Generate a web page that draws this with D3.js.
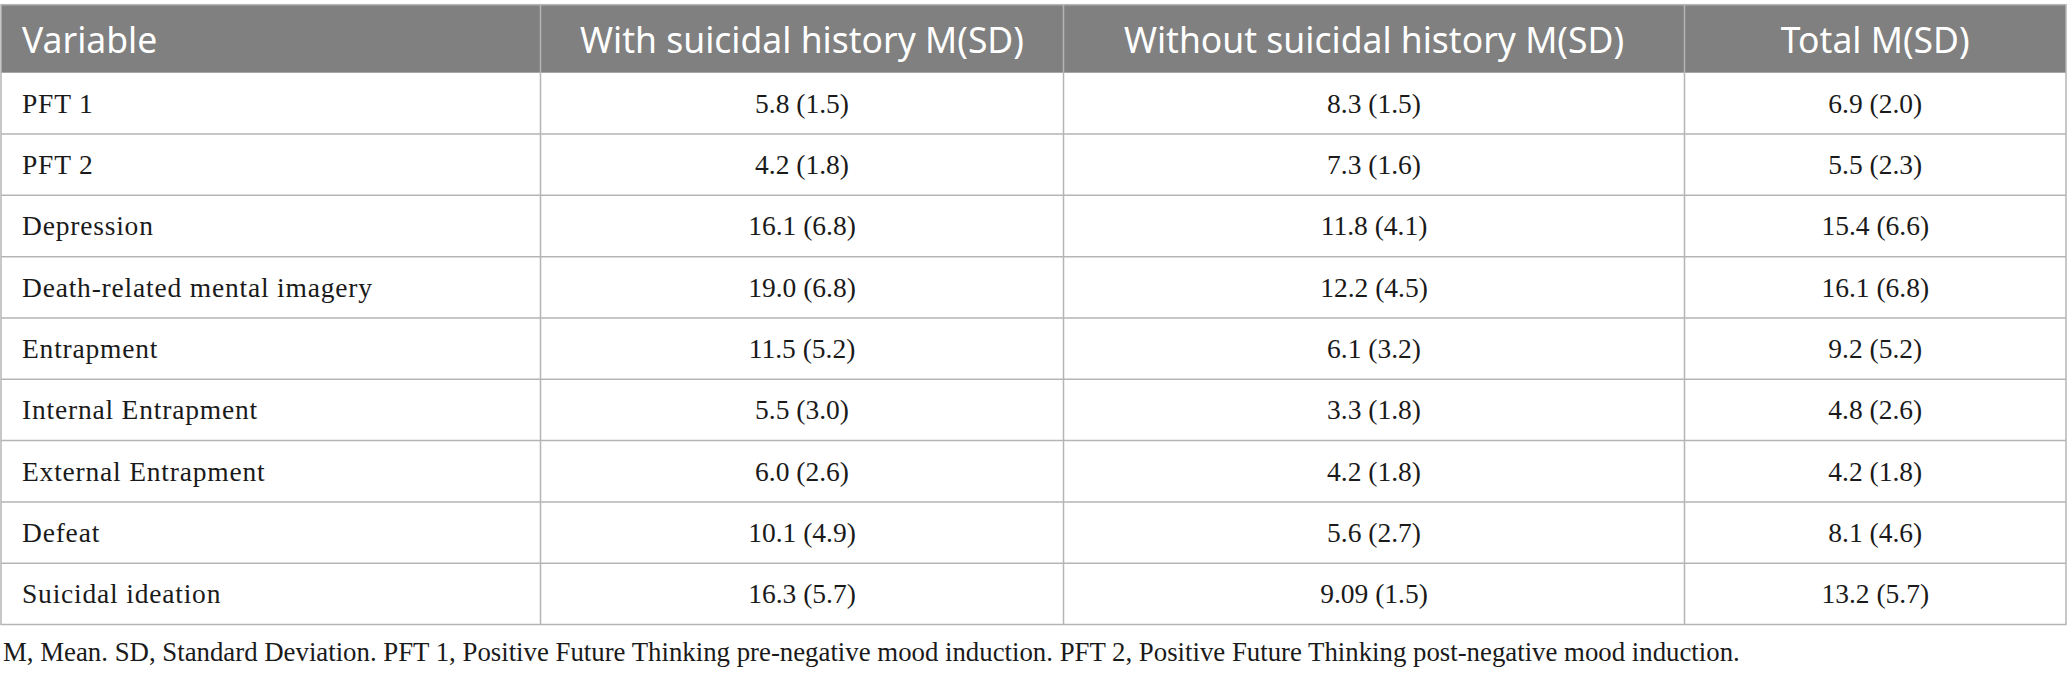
<!DOCTYPE html>
<html>
<head>
<meta charset="utf-8">
<script src="https://cdn.jsdelivr.net/npm/d3@7"></script>
<style>
  html, body { margin: 0; padding: 0; background: #fff; }
  svg { display: block; }
</style>
</head>
<body>
<div id="table"></div>
<script>
// table contents
var headers = ['Variable', 'With suicidal history M(SD)', 'Without suicidal history M(SD)', 'Total M(SD)'];
var variables = ['PFT 1', 'PFT 2', 'Depression', 'Death-related mental imagery', 'Entrapment',
    'Internal Entrapment', 'External Entrapment', 'Defeat', 'Suicidal ideation'];
var withHistory = ['5.8 (1.5)', '4.2 (1.8)', '16.1 (6.8)', '19.0 (6.8)', '11.5 (5.2)',
    '5.5 (3.0)', '6.0 (2.6)', '10.1 (4.9)', '16.3 (5.7)'];
var withoutHistory = ['8.3 (1.5)', '7.3 (1.6)', '11.8 (4.1)', '12.2 (4.5)', '6.1 (3.2)',
    '3.3 (1.8)', '4.2 (1.8)', '5.6 (2.7)', '9.09 (1.5)'];
var total = ['6.9 (2.0)', '5.5 (2.3)', '15.4 (6.6)', '16.1 (6.8)', '9.2 (5.2)',
    '4.8 (2.6)', '4.2 (1.8)', '8.1 (4.6)', '13.2 (5.7)'];
var footnote = 'M, Mean. SD, Standard Deviation. PFT 1, Positive Future Thinking pre-negative mood induction. ' +
    'PFT 2, Positive Future Thinking post-negative mood induction.';

var width = 2067,
    height = 677,
    tableTop = 4.7,     // 'top' is taken by window.top
    headerH = 68,
    tableBottom = 624.5,
    lineColor = '#b5b5b5',
    headerFill = '#808080',
    serif = '"Liberation Serif", "DejaVu Serif", serif';

// column edges (left of each column + right edge)
var colEdges = [1, 540.5, 1063.5, 1684.5, 2066];

var rows = variables.map(function (v, i) {
    return [v, withHistory[i], withoutHistory[i], total[i]];
});

var svg = d3.select('#table').append('svg')
    .attr('width', width)
    .attr('height', height);

var y = d3.scaleBand()
    .domain(d3.range(rows.length))
    .range([tableTop + headerH, tableBottom])
    .padding(0);

var x = d3.scaleOrdinal()
    .domain(d3.range(headers.length))
    .range(colEdges.slice(0, 4));

function colW(i) { return colEdges[i + 1] - colEdges[i]; }

// header background
svg.append('rect')
    .attr('x', colEdges[0])
    .attr('y', tableTop)
    .attr('width', colEdges[4] - colEdges[0])
    .attr('height', headerH)
    .attr('fill', headerFill);

// header text
svg.append('g').selectAll('text')
    .data(headers)
    .join('text')
    .attr('x', function (d, i) { return i === 0 ? x(i) + 21 : x(i) + colW(i) / 2; })
    .attr('y', tableTop + 48.5)
    .attr('text-anchor', function (d, i) { return i === 0 ? 'start' : 'middle'; })
    .attr('fill', '#fff')
    .style('font-family', '"Noto Sans", "Open Sans", sans-serif')
    .style('font-size', '35.5px')
    .text(function (d) { return d; });

// body cells
var rowG = svg.append('g').selectAll('g')
    .data(rows)
    .join('g')
    .attr('transform', function (d, i) { return 'translate(0,' + y(i) + ')'; });

rowG.selectAll('text')
    .data(function (d) { return d; })
    .join('text')
    .attr('x', function (d, i) { return i === 0 ? x(i) + 21 : x(i) + colW(i) / 2; })
    .attr('y', y.bandwidth() / 2 + 9.5)
    .attr('text-anchor', function (d, i) { return i === 0 ? 'start' : 'middle'; })
    .attr('fill', '#1a1a1a')
    .style('font-family', serif)
    .style('font-size', '27.5px')
    .style('letter-spacing', function (d, i) { return i === 0 ? '0.8px' : null; })
    .text(function (d) { return d; });

// horizontal lines between body rows
svg.append('g').selectAll('line')
    .data(d3.range(1, rows.length))
    .join('line')
    .attr('x1', colEdges[0])
    .attr('x2', colEdges[4])
    .attr('y1', function (i) { return y(i); })
    .attr('y2', function (i) { return y(i); })
    .attr('stroke', lineColor)
    .attr('stroke-width', 1.5);

// vertical column lines (light over header too)
svg.append('g').selectAll('line')
    .data(d3.range(1, 4))
    .join('line')
    .attr('x1', function (i) { return colEdges[i]; })
    .attr('x2', function (i) { return colEdges[i]; })
    .attr('y1', tableTop)
    .attr('y2', tableBottom)
    .attr('stroke', lineColor)
    .attr('stroke-width', 1.5);

// outer border
svg.append('rect')
    .attr('x', colEdges[0])
    .attr('y', tableTop)
    .attr('width', colEdges[4] - colEdges[0])
    .attr('height', tableBottom - tableTop)
    .attr('fill', 'none')
    .attr('stroke', lineColor)
    .attr('stroke-width', 1.5);

// footnote
svg.append('text')
    .attr('x', 3)
    .attr('y', 661)
    .attr('fill', '#1a1a1a')
    .style('font-family', serif)
    .style('font-size', '26.8px')
    .text(footnote);
</script>
</body>
</html>
